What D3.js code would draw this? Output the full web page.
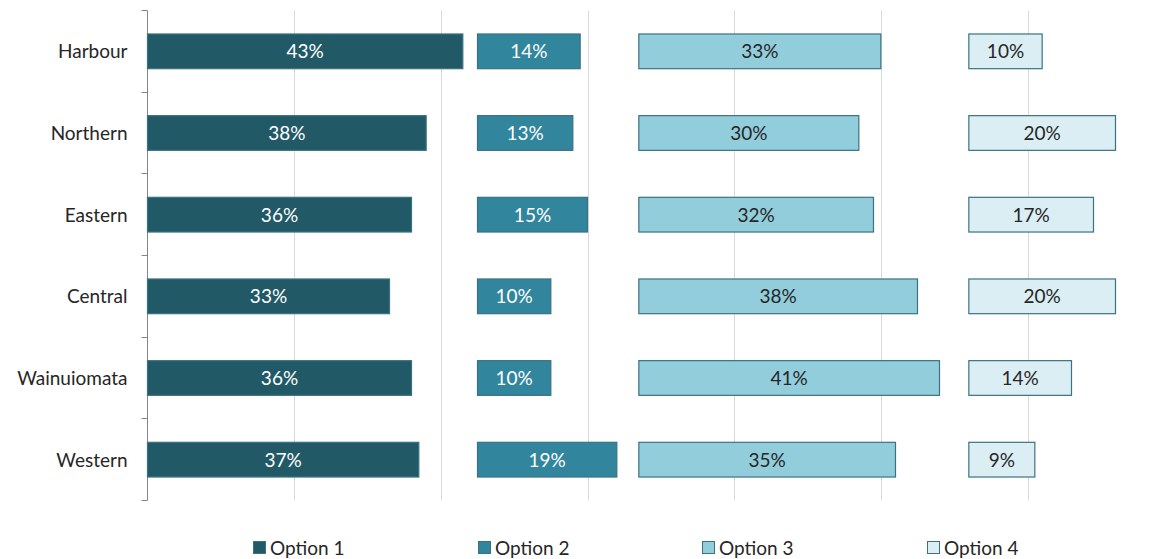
<!DOCTYPE html>
<html>
<head>
<meta charset="utf-8">
<script src="https://cdn.jsdelivr.net/npm/d3@7"></script>
<style>
  body { margin: 0; background: #fff; }
  svg text { font-family: Lato, "Open Sans", sans-serif; }
</style>
</head>
<body>
<svg id="chart" width="1160" height="559"></svg>
<script>
// Areas and the share for each option (data labels on the bars)
let categories = ["Harbour", "Northern", "Eastern", "Central", "Wainuiomata", "Western"];
let seriesNames = ["Option 1", "Option 2", "Option 3", "Option 4"];
let option1 = [43, 38, 36, 33, 36, 37];
let option2 = [14, 13, 15, 10, 10, 19];
let option3 = [33, 30, 32, 38, 41, 35];
let option4 = [10, 20, 17, 20, 14, 9];
let gridTicks = [20, 40, 60, 80, 100, 120];

// where each option's panel starts on the value axis (spacer in the original)
let panelStart = [0, 45, 67, 112];
let colors = ["#215967", "#31859C", "#92CDDC", "#DAEEF3"];
let labelColors = ["#ffffff", "#ffffff", "#262626", "#262626"];

let series = [option1, option2, option3, option4];

let svg = d3.select("#chart");
let x = d3.scaleLinear().domain([0, 120]).range([147.5, 1027.5]);
let y = d3.scaleBand().domain(categories).range([10.5, 500.5])
    .paddingInner(0.575).paddingOuter(0.2875);

// gridlines
svg.append("g")
    .selectAll("line")
    .data(gridTicks)
    .enter().append("line")
    .attr("x1", d => Math.round(x(d)) + 0.5)
    .attr("x2", d => Math.round(x(d)) + 0.5)
    .attr("y1", 10.5)
    .attr("y2", 500.5)
    .attr("stroke", "#d9d9d9")
    .attr("stroke-width", 1);

// category axis, ticks between categories
let step = y.step();
let yAxis = svg.append("g").attr("transform", "translate(147.5,0)");
yAxis.append("line")
    .attr("x1", 0).attr("x2", 0)
    .attr("y1", 10.5).attr("y2", 500.5)
    .attr("stroke", "#868686");
yAxis.selectAll(".tick")
    .data(d3.range(categories.length + 1))
    .enter().append("line")
    .attr("x1", -6).attr("x2", 0)
    .attr("y1", i => Math.round(10 + i * step) + 0.5)
    .attr("y2", i => Math.round(10 + i * step) + 0.5)
    .attr("stroke", "#868686");
yAxis.selectAll(".cat")
    .data(categories)
    .enter().append("text")
    .attr("x", -20)
    .attr("y", d => y(d) + y.bandwidth() / 2)
    .attr("dy", "0.36em")
    .attr("text-anchor", "end")
    .attr("font-size", "19px")
    .attr("fill", "#262626")
    .text(d => d);

// bars
series.forEach((values, s) => {
    let g = svg.append("g");
    g.selectAll("rect")
        .data(values)
        .enter().append("rect")
        .attr("x", d => x(panelStart[s]))
        .attr("y", (d, i) => y(categories[i]))
        .attr("width", d => x(panelStart[s] + d) - x(panelStart[s]))
        .attr("height", y.bandwidth())
        .attr("fill", colors[s])
        .attr("stroke", "#3b7282")
        .attr("stroke-width", 1.2);
    g.selectAll("text")
        .data(values)
        .enter().append("text")
        .attr("x", d => x(panelStart[s] + d / 2))
        .attr("y", (d, i) => y(categories[i]) + y.bandwidth() / 2)
        .attr("dy", "0.36em")
        .attr("text-anchor", "middle")
        .attr("font-size", "19px")
        .attr("fill", labelColors[s])
        .text(d => d + "%");
});

// legend
let legendX = [253, 478, 702, 927];
let legend = svg.append("g");
let item = legend.selectAll("g")
    .data(seriesNames)
    .enter().append("g")
    .attr("transform", (d, i) => "translate(" + legendX[i] + ",548)");
item.append("rect")
    .attr("x", 0.5).attr("y", -6.5)
    .attr("width", 12).attr("height", 12)
    .attr("fill", (d, i) => colors[i])
    .attr("stroke", "#3b7282")
    .attr("stroke-width", 1);
item.append("text")
    .attr("x", 17)
    .attr("y", 0)
    .attr("dy", "0.36em")
    .attr("font-size", "19px")
    .attr("fill", "#262626")
    .text(d => d);
</script>
</body>
</html>
